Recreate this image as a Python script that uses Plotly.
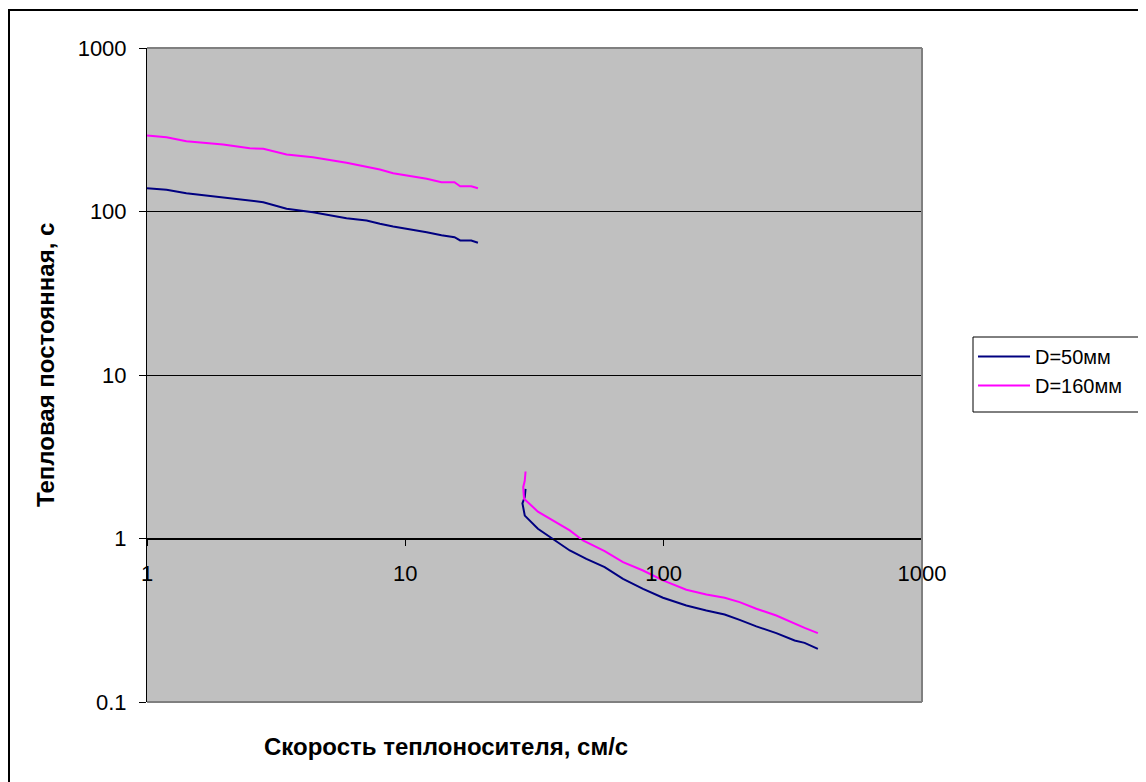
import plotly.graph_objects as go

# ---- data ----
speed_low = [1, 1.19, 1.42, 1.97, 2.50, 2.82, 3.47, 4.39, 5.92, 7.08, 7.97, 8.97,
             12.1, 13.8, 15.5, 16.3, 18.0, 19.1]
tau50_low = [138.8, 135.7, 129.4, 122.3, 116.8, 114.0, 103.9, 99.0, 91.0, 88.1, 84.1, 81.0,
             74.7, 71.5, 69.6, 66.5, 66.4, 64.4]
tau160_low = [291.6, 284.8, 269.0, 257.0, 243.9, 241.8, 223.2, 214.8, 198.6, 186.6, 180.7, 171.5,
              158.5, 151.1, 151.1, 142.8, 142.8, 138.8]

speed50_high = [29.2, 29.0, 28.4, 29.0, 32.6, 37.3, 43.3, 50.2, 59.1, 69.6, 83.2, 99.4,
                122.4, 146.3, 172.2, 196.8, 228.4, 272.9, 321.3, 351.2, 395.3]
tau50_high = [2.01, 1.80, 1.64, 1.38, 1.146, 0.996, 0.845, 0.751, 0.668, 0.567, 0.492, 0.434,
              0.389, 0.363, 0.343, 0.318, 0.290, 0.264, 0.238, 0.230, 0.2115]
speed160_high = [29.2, 29.0, 28.6, 28.8, 32.6, 37.3, 43.3, 48.7, 59.1, 69.6, 83.2, 99.4,
                 122.4, 146.3, 172.2, 196.8, 228.4, 272.9, 321.3, 351.2, 395.3]
tau160_high = [2.57, 2.26, 2.06, 1.75, 1.46, 1.29, 1.12, 0.972, 0.836, 0.716, 0.637, 0.554,
               0.486, 0.455, 0.434, 0.408, 0.372, 0.338, 0.301, 0.284, 0.264]

series_names = ["D=50мм", "D=160мм"]
x_ticks = [1, 10, 100, 1000]
x_tick_text = ["1", "10", "100", "1000"]
y_ticks = [0.1, 1, 10, 100, 1000]
y_tick_text = ["0.1", "1", "10", "100", "1000"]
x_title = "Скорость теплоносителя, см/с"
y_title = "Тепловая постоянная, с"

FONT = "Arial, Liberation Sans, sans-serif"

# The page body has an 8px margin: figure origin sits at page (8, 8).
OFF = 8
W, H = 1146 - OFF, 782 - OFF
# plot area in page pixels: x 147..922, y 48..702
L, R, T, B = 147 - OFF, 922 - OFF, 48 - OFF, 702 - OFF
pw, ph = R - L, B - T


def px_x(page_x):
    return (page_x - OFF - L) / pw


def px_y(page_y):
    return (B - (page_y - OFF)) / ph


fig = go.Figure()
fig.add_trace(go.Scatter(
    x=speed_low + [None] + speed50_high,
    y=tau50_low + [None] + tau50_high,
    mode="lines", name=series_names[0],
    line=dict(color="#000080", width=2),
))
fig.add_trace(go.Scatter(
    x=speed_low + [None] + speed160_high,
    y=tau160_low + [None] + tau160_high,
    mode="lines", name=series_names[1],
    line=dict(color="#FF00FF", width=2),
))

fig.update_layout(
    width=W, height=H,
    margin=dict(l=L, r=W - R, t=T, b=H - B),
    paper_bgcolor="white",
    plot_bgcolor="#C0C0C0",
    font=dict(family=FONT, size=22, color="black"),
    showlegend=True,
    legend=dict(
        x=px_x(973), y=px_y(337), xanchor="left", yanchor="top",
        bgcolor="rgba(0,0,0,0)", borderwidth=0,
        font=dict(family=FONT, size=20, color="black"),
        itemwidth=52, tracegroupgap=0,
    ),
    xaxis=dict(
        type="log", range=[0, 3],
        anchor="free", position=0.25,
        showline=True, linecolor="black", linewidth=1,
        ticks="outside", ticklen=6, tickcolor="black",
        tickvals=x_ticks, ticktext=x_tick_text,
        ticklabelstandoff=9,
        showgrid=False, zeroline=False,
        tickfont=dict(family=FONT, size=22),
    ),
    yaxis=dict(
        type="log", range=[-1, 3],
        showline=True, linecolor="black", linewidth=1,
        ticks="outside", ticklen=7, tickcolor="black",
        tickvals=y_ticks, ticktext=y_tick_text,
        ticklabelstandoff=8,
        showgrid=True, gridcolor="black", gridwidth=1,
        zeroline=False,
        tickfont=dict(family=FONT, size=22),
    ),
)

# plot-area grey border (top, right, bottom)
for (x0, y0, x1, y1) in [(0, 1, 1, 1), (1, 0, 1, 1), (0, 0, 1, 0)]:
    fig.add_shape(type="line", xref="paper", yref="paper",
                  x0=x0, y0=y0, x1=x1, y1=y1,
                  line=dict(color="#808080", width=2), layer="above")

# outer chart border (cut by the right and bottom page edge)
fig.add_shape(type="rect", xref="paper", yref="paper",
              x0=px_x(9), y0=px_y(790), x1=px_x(1160), y1=px_y(10),
              line=dict(color="black", width=2), layer="above")

# legend frame
fig.add_shape(type="rect", xref="paper", yref="paper",
              x0=px_x(973), y0=px_y(412), x1=px_x(1143), y1=px_y(337),
              line=dict(color="black", width=1), fillcolor="white", layer="below")

# axis titles
fig.add_annotation(text="<b>" + x_title + "</b>", xref="paper", yref="paper",
                   x=px_x(446), y=px_y(746), showarrow=False,
                   xanchor="center", yanchor="middle",
                   font=dict(family=FONT, size=24, color="black"))
fig.add_annotation(text="<b>" + y_title + "</b>", xref="paper", yref="paper",
                   x=px_x(45), y=px_y(365), showarrow=False, textangle=-90,
                   xanchor="center", yanchor="middle",
                   font=dict(family=FONT, size=24, color="black"))

fig.write_html("out.html")
